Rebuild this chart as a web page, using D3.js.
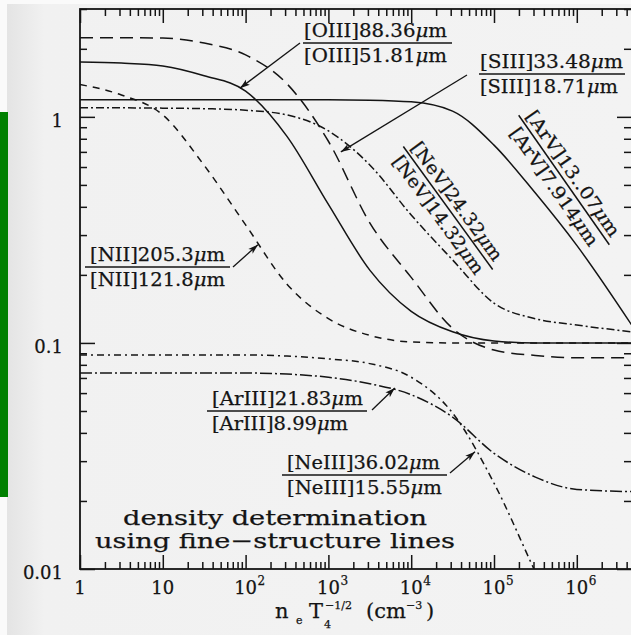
<!DOCTYPE html>
<meta charset="utf-8">
<html>
<head>
<script src="https://cdn.jsdelivr.net/npm/d3@7"></script>
<style>
body { margin: 0; background: #ffffff; }
svg { display: block; }
text { font-family: "DejaVu Serif", serif; fill: #141414; stroke: #141414; stroke-width: 0.25px; }
</style>
</head>
<body>
<div id="chart"></div>
<script>

var density = [1, 3.16, 10, 31.6, 100, 316, 1000, 3160, 1e4, 3.16e4, 1e5, 3.16e5, 1e6, 4.6e6];

// line ratios
var ratioOIII  = [1.75, 1.73, 1.68, 1.52, 1.30, 0.82, 0.41, 0.21, 0.138, 0.112, 0.102, 0.100, 0.100, 0.100];
var ratioSIII  = [2.24, 2.24, 2.23, 2.12, 1.88, 1.40, 0.78, 0.34, 0.195, 0.116, 0.093, 0.088, 0.086, 0.086];
var ratioNII   = [1.39, 1.25, 1.02, 0.61, 0.333, 0.182, 0.128, 0.108, 0.101, 0.100, 0.100, 0.100, 0.100, 0.100];
var ratioNeV   = [1.096, 1.096, 1.093, 1.087, 1.07, 1.02, 0.867, 0.613, 0.368, 0.233, 0.150, 0.128, 0.120, 0.112];
var ratioArV   = [1.19, 1.19, 1.19, 1.19, 1.19, 1.19, 1.19, 1.185, 1.165, 1.06, 0.75, 0.46, 0.27, 0.12];
var ratioArIII = [0.0736, 0.0736, 0.0736, 0.0736, 0.0736, 0.0728, 0.0705, 0.066, 0.059, 0.047, 0.0325, 0.0255, 0.0225, 0.022];
var ratioNeIII = [0.0885, 0.0885, 0.0885, 0.0885, 0.0885, 0.0875, 0.085, 0.081, 0.0705, 0.049, 0.024, 0.0097, 0.004, 0.0015];

// axis ticks
var xTickValues = [1, 10, 100, 1e3, 1e4, 1e5, 1e6];
var xTickBase   = ["1", "10", "10", "10", "10", "10", "10"];
var xTickExp    = ["", "", "2", "3", "4", "5", "6"];
var yTickValues = [0.01, 0.1, 1];
var yTickLabels = ["0.01", "0.1", "1"];

// arrow tips (density, ratio)
var arrowTipDensity = [85.5, 1413, 141, 6340, 5.9e4];
var arrowTipRatio   = [1.34, 0.70, 0.272, 0.0632, 0.033];

var W = 631, H = 635;
var pLeft = 80, pRight = 632, pTop = 9, pBottom = 569;
var ink = "#141414";

var svg = d3.select("#chart").append("svg")
  .attr("width", W).attr("height", H);

// paper background
var defs = svg.append("defs");
var grad = defs.append("linearGradient").attr("id", "paper").attr("x1", 0).attr("x2", 1).attr("y1", 0).attr("y2", 0);
grad.append("stop").attr("offset", "0").attr("stop-color", "#e4e4e4");
grad.append("stop").attr("offset", "0.06").attr("stop-color", "#f1f1f1");
grad.append("stop").attr("offset", "1").attr("stop-color", "#f3f3f3");
svg.append("rect").attr("width", W).attr("height", H).attr("fill", "#fafafa");
svg.append("rect").attr("x", 7).attr("y", 4).attr("width", W - 7).attr("height", H - 4).attr("fill", "url(#paper)");
svg.append("rect").attr("x", 0).attr("y", 112).attr("width", 8).attr("height", 385).attr("fill", "#008000");

defs.append("clipPath").attr("id", "plotclip")
  .append("rect").attr("x", pLeft).attr("y", pTop).attr("width", pRight - pLeft).attr("height", pBottom - pTop);
defs.append("marker").attr("id", "head")
  .attr("viewBox", "0 -4 10 8").attr("refX", 10).attr("refY", 0)
  .attr("markerWidth", 11).attr("markerHeight", 8).attr("markerUnits", "userSpaceOnUse")
  .attr("orient", "auto")
  .append("path").attr("d", "M0,-3.2L10,0L0,3.2L2.5,0Z").attr("fill", ink);

var x = d3.scaleLog().domain([1, Math.pow(10, (pRight - pLeft) / 82.8)]).range([pLeft, pRight]);
var y = d3.scaleLog().domain([0.01, 3.0]).range([pBottom, pTop]);

var isMajor = function(v) { return Math.abs(Math.log10(v) - Math.round(Math.log10(v))) < 1e-6; };
var xMinor = x.ticks().filter(function(v) { return !isMajor(v); });
var yMinor = y.ticks().filter(function(v) { return !isMajor(v); });

function styleAxis(g) {
  g.select(".domain").remove();
  g.selectAll("line").attr("stroke", ink).attr("stroke-width", 1.5);
  g.selectAll("text").remove();
}

// bottom and top
svg.append("g").attr("transform", "translate(0," + pBottom + ")")
  .call(d3.axisTop(x).tickValues(xTickValues).tickSize(14).tickSizeOuter(0)).call(styleAxis);
svg.append("g").attr("transform", "translate(0," + pBottom + ")")
  .call(d3.axisTop(x).tickValues(xMinor).tickSize(7).tickSizeOuter(0)).call(styleAxis);
svg.append("g").attr("transform", "translate(0," + pTop + ")")
  .call(d3.axisBottom(x).tickValues(xTickValues).tickSize(14).tickSizeOuter(0)).call(styleAxis);
svg.append("g").attr("transform", "translate(0," + pTop + ")")
  .call(d3.axisBottom(x).tickValues(xMinor).tickSize(7).tickSizeOuter(0)).call(styleAxis);
// left and right
svg.append("g").attr("transform", "translate(" + pLeft + ",0)")
  .call(d3.axisRight(y).tickValues(yTickValues).tickSize(15).tickSizeOuter(0)).call(styleAxis);
svg.append("g").attr("transform", "translate(" + pLeft + ",0)")
  .call(d3.axisRight(y).tickValues(yMinor).tickSize(7).tickSizeOuter(0)).call(styleAxis);
svg.append("g").attr("transform", "translate(" + pRight + ",0)")
  .call(d3.axisLeft(y).tickValues(yTickValues).tickSize(15).tickSizeOuter(0)).call(styleAxis);
svg.append("g").attr("transform", "translate(" + pRight + ",0)")
  .call(d3.axisLeft(y).tickValues(yMinor).tickSize(8).tickSizeOuter(0)).call(styleAxis);

// frame
svg.append("rect").attr("x", pLeft).attr("y", pTop).attr("width", pRight - pLeft).attr("height", pBottom - pTop)
  .attr("fill", "none").attr("stroke", ink).attr("stroke-width", 1.8);

// tick labels
xTickValues.forEach(function(v, i) {
  svg.append("text").attr("x", x(v)).attr("y", 594).attr("text-anchor", "middle")
    .attr("font-size", 18).text(xTickBase[i]);
  if (xTickExp[i]) {
    svg.append("text").attr("x", x(v) + 12).attr("y", 585).attr("font-size", 12).text(xTickExp[i]);
  }
});
yTickValues.forEach(function(v, i) {
  svg.append("text").attr("x", 63).attr("y", y(v) + 10).attr("text-anchor", "end")
    .attr("font-size", 18).text(yTickLabels[i]);
});

// axis title n_e T_4^-1/2 (cm^-3)
var t = svg.append("g");
t.append("text").attr("x", 275).attr("y", 618).attr("font-size", 21).text("n");
t.append("text").attr("x", 296).attr("y", 624).attr("font-size", 11).text("e");
t.append("text").attr("x", 309).attr("y", 618).attr("font-size", 21).text("T");
t.append("text").attr("x", 324).attr("y", 628).attr("font-size", 11).text("4");
t.append("text").attr("x", 325).attr("y", 609).attr("font-size", 11).text("−1/2");
t.append("text").attr("x", 366).attr("y", 618).attr("font-size", 21).text("(cm");
t.append("text").attr("x", 406).attr("y", 609).attr("font-size", 11).text("−3");
t.append("text").attr("x", 426).attr("y", 618).attr("font-size", 21).text(")");

// curves
var series = [
  {v: ratioSIII,  dash: "13,7"},
  {v: ratioOIII,  dash: null},
  {v: ratioNII,   dash: "7,6"},
  {v: ratioNeV,   dash: "8,3,2,3"},
  {v: ratioArV,   dash: null},
  {v: ratioArIII, dash: "12,3,2,3"},
  {v: ratioNeIII, dash: "7,4,2,4"}
];
var line = d3.line()
  .x(function(d) { return x(d[0]); })
  .y(function(d) { return y(d[1]); })
  .curve(d3.curveMonotoneX);
var cg = svg.append("g").attr("clip-path", "url(#plotclip)");
series.forEach(function(s) {
  cg.append("path")
    .datum(density.map(function(n, i) { return [n, s.v[i]]; }))
    .attr("fill", "none").attr("stroke", ink).attr("stroke-width", 1.5)
    .attr("stroke-dasharray", s.dash)
    .attr("d", line);
});

// "[Ion]12.34μm" with an italic mu
function lineText(g, txt) {
  var parts = txt.split("μ");
  g.append("tspan").text(parts[0]);
  g.append("tspan").attr("font-style", "italic").text("μ");
  g.append("tspan").text(parts[1]);
}

// fraction labels
function fraction(g, x0, yb, num, den, wNum, wDen, barX1, barX2) {
  g.append("text").attr("x", x0).attr("y", yb - 6).attr("font-size", 18)
    .attr("textLength", wNum).attr("lengthAdjust", "spacingAndGlyphs").call(lineText, num);
  g.append("text").attr("x", x0).attr("y", yb + 19).attr("font-size", 18)
    .attr("textLength", wDen).attr("lengthAdjust", "spacingAndGlyphs").call(lineText, den);
  g.append("line").attr("x1", barX1).attr("x2", barX2).attr("y1", yb).attr("y2", yb)
    .attr("stroke", ink).attr("stroke-width", 1.5);
}
var lab = svg.append("g");
fraction(lab, 304, 43, "[OIII]88.36μm", "[OIII]51.81μm", 143, 143, 303, 452);
fraction(lab, 480, 74, "[SIII]33.48μm", "[SIII]18.71μm", 143, 138, 479, 625);
fraction(lab, 90, 267, "[NII]205.3μm", "[NII]121.8μm", 135, 135, 85, 230);
fraction(lab, 212, 411, "[ArIII]21.83μm", "[ArIII]8.99μm", 151, 136, 207, 367);
fraction(lab, 287, 475, "[NeIII]36.02μm", "[NeIII]15.55μm", 153, 155, 282, 447);

// rotated labels along curves
function rotFraction(cx, cy, ang, num, den, wNum, wDen, barLen) {
  var g = svg.append("g").attr("transform", "translate(" + cx + "," + cy + ") rotate(" + ang + ")");
  g.append("text").attr("x", 0).attr("y", -5).attr("text-anchor", "middle").attr("font-size", 18)
    .attr("textLength", wNum).attr("lengthAdjust", "spacingAndGlyphs").call(lineText, num);
  g.append("text").attr("x", 0).attr("y", 18).attr("text-anchor", "middle").attr("font-size", 18)
    .attr("textLength", wDen).attr("lengthAdjust", "spacingAndGlyphs").call(lineText, den);
  g.append("line").attr("x1", -barLen / 2).attr("x2", barLen / 2).attr("y1", 0).attr("y2", 0)
    .attr("stroke", ink).attr("stroke-width", 1.5);
}
rotFraction(448, 208, 54, "[NeV]24.32μm", "[NeV]14.32μm", 142, 142, 152);
rotFraction(564, 180, 55, "[ArV]13..07μm", "[ArV]7.914μm", 149, 140, 158);

// arrows
var arrowTailX = [300, 467, 233, 372, 450];
var arrowTailY = [43, 75, 267, 410, 473];
arrowTipDensity.forEach(function(n, i) {
  svg.append("line")
    .attr("x1", arrowTailX[i]).attr("y1", arrowTailY[i])
    .attr("x2", x(n)).attr("y2", y(arrowTipRatio[i]))
    .attr("stroke", ink).attr("stroke-width", 1.3)
    .attr("marker-end", "url(#head)");
});

// annotation
svg.append("text").attr("x", 275).attr("y", 525).attr("text-anchor", "middle").attr("font-size", 21)
  .attr("textLength", 304).attr("lengthAdjust", "spacingAndGlyphs").text("density determination");
svg.append("text").attr("x", 275).attr("y", 548).attr("text-anchor", "middle").attr("font-size", 21)
  .attr("textLength", 360).attr("lengthAdjust", "spacingAndGlyphs").text("using fine−structure lines");

</script>
</body>
</html>
